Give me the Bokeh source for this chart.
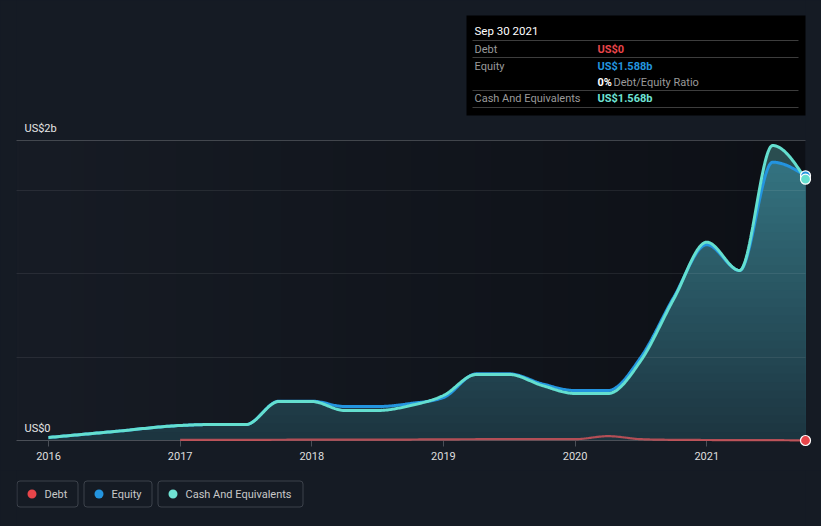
import numpy as np
from bokeh.plotting import figure
from bokeh.layouts import column
from bokeh.models import FixedTicker, Range1d
from bokeh.core.properties import value
from bokeh.embed import file_html
from bokeh.resources import INLINE

# ---------------- data (US$ billions, fractional years) ----------------
cash_x = [2016.0, 2016.5, 2017.0, 2017.25, 2017.5, 2017.75, 2018.0, 2018.25, 2018.5,
          2018.75, 2019.0, 2019.25, 2019.5, 2019.75, 2020.0, 2020.25, 2020.5, 2020.75,
          2021.0, 2021.25, 2021.5, 2021.75]
cash_y = [0.018, 0.054, 0.090, 0.096, 0.096, 0.234, 0.234, 0.180, 0.180,
          0.210, 0.270, 0.396, 0.396, 0.330, 0.282, 0.282, 0.480, 0.850,
          1.190, 1.020, 1.770, 1.568]

equity_x = cash_x
equity_y = [0.018, 0.054, 0.090, 0.096, 0.096, 0.236, 0.236, 0.204, 0.204,
            0.222, 0.258, 0.400, 0.400, 0.340, 0.300, 0.300, 0.500, 0.860,
            1.175, 1.020, 1.670, 1.588]

debt_x = [2017.0, 2017.5, 2018.0, 2018.5, 2019.0, 2019.5, 2020.0, 2020.25, 2020.5,
          2020.75, 2021.0, 2021.25, 2021.5, 2021.75]
debt_y = [0.004, 0.004, 0.005, 0.005, 0.007, 0.008, 0.008, 0.026, 0.008,
          0.004, 0.003, 0.002, 0.002, 0.0]

year_ticks = [2016, 2017, 2018, 2019, 2020, 2021]
y_grid = [0.5, 1.0, 1.5]
y_top = 1.8
y_labels = ["US$0", "US$2b"]

tip_date = "Sep 30 2021"
tip_debt = "US$0"
tip_equity = "US$1.588b"
tip_ratio = "0%"
tip_cash = "US$1.568b"

legend_names = ["Debt", "Equity", "Cash And Equivalents"]
legend_colors = ["#e8454a", "#2394df", "#6fe3d4"]

# ---------------- helpers ----------------
FONT = "Roboto"
BG = "#151b24"
W = 821
X0, X1 = 2015.757, 2021.75
FL, FR = 16, 805          # frame left / right (page px)
FW = FR - FL
Y0PX = 440                # page y of value 0
PXB = 300 / y_top         # px per billion
Y_END = Y0PX / PXB        # value at page y = 0


def xd(px):
    return X0 + (px - FL) / FW * (X1 - X0)


def yd(py):
    return (Y0PX - py) / PXB


def monotone(xs, ys, n=30):
    xs = np.asarray(xs, float)
    ys = np.asarray(ys, float)
    m = len(xs)
    h = np.diff(xs)
    s = np.diff(ys) / h
    t = np.zeros(m)
    for i in range(1, m - 1):
        h0, h1, s0, s1 = h[i - 1], h[i], s[i - 1], s[i]
        pp = (s0 * h1 + s1 * h0) / (h0 + h1)
        sg = (1 if s0 >= 0 else -1) + (1 if s1 >= 0 else -1)
        t[i] = sg * min(abs(s0), abs(s1), 0.5 * abs(pp))
    t[0] = (3 * s[0] - t[1]) / 2
    t[-1] = (3 * s[-1] - t[-2]) / 2
    ox, oy = [], []
    for i in range(m - 1):
        u = np.linspace(0, 1, n, endpoint=False)
        h00 = 2 * u**3 - 3 * u**2 + 1
        h10 = u**3 - 2 * u**2 + u
        h01 = -2 * u**3 + 3 * u**2
        h11 = u**3 - u**2
        ox.append(xs[i] + u * h[i])
        oy.append(h00 * ys[i] + h10 * h[i] * t[i] + h01 * ys[i + 1] + h11 * h[i] * t[i + 1])
    ox.append([xs[-1]])
    oy.append([ys[-1]])
    return np.concatenate(ox), np.concatenate(oy)


def txt(fig, x, y, text, color, size="11px", style="normal"):
    fig.text(x=[x], y=[y], text=[text], text_color=color, text_font=value(FONT),
             text_font_size=size, text_font_style=style, text_baseline="middle",
             text_align="left", level="overlay")


p = figure(width=W, height=470, x_range=Range1d(X0, X1), y_range=Range1d(0, Y_END),
           output_backend="svg", toolbar_location=None, y_axis_location=None,
           min_border_left=FL, min_border_right=W - FR, min_border_top=0, min_border_bottom=30)
p.background_fill_color = BG
p.border_fill_color = BG
p.outline_line_color = None
p.xgrid.visible = False
p.ygrid.visible = False
p.styles = {"background-color": BG}

# background gradient of the plot area
N = 256
img = np.zeros((1, N), dtype=np.uint32)
v = img.view(dtype=np.uint8).reshape((1, N, 4))
c0 = np.array([0x17, 0x1c, 0x25])
c1 = np.array([0x0d, 0x10, 0x16])
for i in range(N):
    f = i / (N - 1)
    c = c0 + (c1 - c0) * f
    v[0, i, 0:3] = c.astype(np.uint8)
    v[0, i, 3] = 255
p.image_rgba(image=[img], x=X0, y=0, dw=X1 - X0, dh=y_top, level="image")

# smoothed curves
cx, cy = monotone(cash_x, cash_y)
ex, ey = monotone(equity_x, equity_y)
dx, dy = monotone(debt_x, debt_y)

# gradient fill under equity
NB = 36
b0 = np.array([0x1c, 0x34, 0x3f])
b1 = np.array([0x36, 0x78, 0x86])
for k in range(NB - 1, -1, -1):
    top = (k + 1) * y_top / NB
    f = (k + 0.5) / NB
    c = b0 + (b1 - b0) * f
    col = "#%02x%02x%02x" % tuple(int(round(q)) for q in c)
    p.varea(x=ex, y1=np.zeros_like(ey), y2=np.minimum(ey, top), fill_color=col)
# cash-above-equity region
p.varea(x=cx, y1=ey, y2=np.maximum(cy, ey), fill_color="#2a4d50")

# grid lines (over the fill, under the lines)
p.hspan(y=y_grid, line_color="#ffffff", line_alpha=0.08, line_width=1, level="guide")
p.hspan(y=[y_top], line_color="#ffffff", line_alpha=0.2, line_width=1, level="guide")

# lines
p.line(dx, dy, line_color="#d9555b", line_width=2.2, line_alpha=0.8, level="overlay")
p.line(ex, ey, line_color="#2394df", line_width=3, level="overlay")
p.line(cx, cy, line_color="#64dfcf", line_width=3, level="overlay")

p.scatter([equity_x[-1]], [equity_y[-1]], size=10, fill_color="#2394df",
          line_color="#ffffff", line_width=1.2, level="overlay")
p.scatter([cash_x[-1]], [cash_y[-1]], size=10, fill_color="#64dfcf",
          line_color="#ffffff", line_width=1.2, level="overlay")
p.scatter([debt_x[-1]], [debt_y[-1]], size=10, fill_color="#e8454a",
          line_color="#ffffff", line_width=1.2, level="overlay")

# x axis
ax = p.xaxis[0]
ax.ticker = FixedTicker(ticks=year_ticks)
ax.major_label_overrides = {y: str(y) for y in year_ticks}
ax.minor_tick_line_color = None
ax.major_tick_in = 0
ax.major_tick_out = 6
ax.major_tick_line_color = "#4a4f57"
ax.axis_line_color = "#4a4f57"
ax.major_label_text_color = "#dedede"
ax.major_label_text_font = FONT
ax.major_label_text_font_size = "11px"
ax.major_label_standoff = 5

# y labels
txt(p, xd(24), yd(428), y_labels[0], "#e6e6e6")
txt(p, xd(24), yd(128), y_labels[1], "#e6e6e6")

# tooltip box
p.quad(left=[xd(466)], right=[xd(805)], top=[yd(15)], bottom=[yd(115)],
       fill_color="#000000", line_color=None, level="overlay")
sep_y = [40, 57, 90, 107]
p.segment(x0=[xd(472)] * 4, x1=[xd(798)] * 4, y0=[yd(q) for q in sep_y],
          y1=[yd(q) for q in sep_y], line_color="#3d3d3d", line_width=1, level="overlay")
txt(p, xd(474), yd(30), tip_date, "#ffffff", "11.5px")
txt(p, xd(474), yd(48.5), "Debt", "#9a9a9a")
txt(p, xd(597), yd(48.5), tip_debt, "#e8454a", "11px", "bold")
txt(p, xd(474), yd(65.5), "Equity", "#9a9a9a")
txt(p, xd(597), yd(65.5), tip_equity, "#2394df", "11px", "bold")
txt(p, xd(597), yd(81.5), tip_ratio, "#ffffff", "11px", "bold")
txt(p, xd(613), yd(81.5), "Debt/Equity Ratio", "#9a9a9a")
txt(p, xd(474), yd(98), "Cash And Equivalents", "#9a9a9a")
txt(p, xd(597), yd(98), tip_cash, "#6fe3d4", "11px", "bold")

# legend strip (page y 470..526; frame aligned with the main frame, pixel coordinates)
LH = 56
leg = figure(width=W, height=LH, x_range=Range1d(FL, FR), y_range=Range1d(LH, 0),
             output_backend="svg", toolbar_location=None,
             x_axis_location=None, y_axis_location=None,
             min_border_left=FL, min_border_right=W - FR, min_border_top=0, min_border_bottom=0)
leg.background_fill_color = BG
leg.border_fill_color = BG
leg.outline_line_color = None
leg.xgrid.visible = False
leg.ygrid.visible = False
leg.styles = {"background-color": BG}

box_lr = [(16, 78), (83, 152), (157, 303)]
for name, col, (l, r) in zip(legend_names, legend_colors, box_lr):
    leg.quad(left=[l + 0.5], right=[r - 0.5], top=[10.5], bottom=[36.5],
             fill_alpha=0, line_color="#3c424b", line_width=1, border_radius=3)
    leg.scatter([l + 15.5], [23.5], size=9, fill_color=col, line_color=None)
    txt(leg, l + 28, 23.5, name, "#c8c8c8", "11px")

layout = column(p, leg, styles={"background-color": BG})
open("out.html", "w").write(file_html(layout, INLINE))
